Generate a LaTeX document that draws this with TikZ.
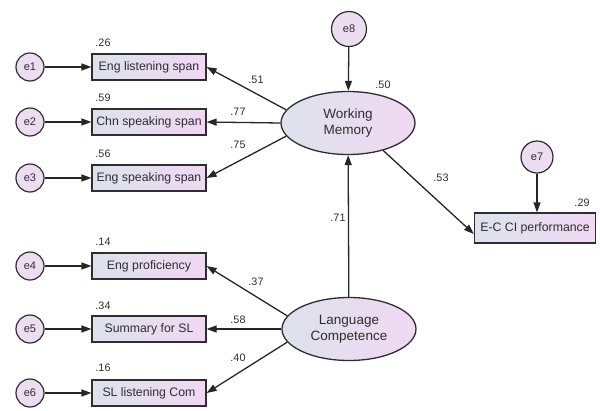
\documentclass[tikz,border=0pt]{standalone}
\usepackage{fontspec}
\setmainfont{Liberation Sans}
\usetikzlibrary{arrows.meta,shapes.geometric}
\definecolor{ink}{HTML}{2E2E2E}
\definecolor{fillL}{HTML}{DCE2EC}
\definecolor{fillR}{HTML}{F1D8F3}
\definecolor{errfill}{HTML}{ECDDF1}
\tikzset{
  obs/.style={draw=ink, line width=1.2pt, rectangle, minimum width=114pt,
    minimum height=26pt, left color=fillL, right color=fillR, inner sep=0pt,
    font=\fontsize{12.3}{14}\selectfont, text=ink},
  lat/.style={draw=ink, line width=1.3pt, ellipse, minimum width=134pt,
    minimum height=63pt, left color=fillL, right color=fillR, inner sep=0pt,
    align=center, font=\fontsize{13.5}{16}\selectfont, text=ink},
  err/.style={draw=ink, line width=1.2pt, circle, minimum size=28pt,
    fill=errfill, inner sep=0pt, font=\fontsize{11}{12}\selectfont, text=ink},
  arr/.style={draw=black!85, line width=1.3pt,
    -{Triangle[length=10pt,width=7pt]}},
  num/.style={font=\fontsize{10.8}{12}\selectfont, text=ink, inner sep=0pt}
}
\begin{document}
\begin{tikzpicture}[x=1pt,y=-1pt]
\useasboundingbox (0,0) rectangle (600,410);

% latent variables
\node[lat] (wm) at (348,123) {Working\\Memory};
\node[lat] (lc) at (349,329) {Language\\Competence};

% observed indicators of working memory
\node[obs] (b1) at (149,67)  {Eng listening span};
\node[obs] (b2) at (149,122) {Chn speaking span};
\node[obs] (b3) at (149,178) {Eng speaking span};
% observed indicators of language competence
\node[obs] (b4) at (149,266) {Eng proficiency};
\node[obs] (b5) at (149,329) {Summary for SL};
\node[obs] (b6) at (149,393) {SL listening Com};
% outcome
\node[obs, minimum width=121pt, minimum height=30pt] (ec) at (535,228) {E-C CI performance};

% error terms
\node[err] (e1) at (30,67)  {e1};
\node[err] (e2) at (30,122) {e2};
\node[err] (e3) at (30,178) {e3};
\node[err] (e4) at (30,266) {e4};
\node[err] (e5) at (30,329) {e5};
\node[err] (e6) at (30,393) {e6};
\node[err, minimum size=32pt] (e7) at (537,157) {e7};
\node[err, minimum size=35pt] (e8) at (349,29) {e8};

% error paths
\foreach \i in {1,...,6} \draw[arr] (e\i) -- (b\i);
\draw[arr] (e8) -- (wm);
\draw[arr] (e7.south) -- (e7.south |- ec.north);

% loadings
\draw[arr] (wm.168) -- (b1.east);
\draw[arr] (wm.180) -- (b2.east);
\draw[arr] (wm.192) -- (b3.east);
\draw[arr] (lc.168) -- (b4.east);
\draw[arr] (lc.180) -- (b5.east);
\draw[arr] (lc.192) -- (b6.east);

% structural paths
\draw[arr] (lc) -- (wm);
\draw[arr] (wm.-38) -- ([yshift=-6pt]ec.west);

% squared multiple correlations
\node[num] (r1) at (103,43)  {.26};
\node[num] (r2) at (103,98)  {.59};
\node[num] (r3) at (103,154) {.56};
\node[num] (r4) at (103,242) {.14};
\node[num] (r5) at (103,306) {.34};
\node[num] (r6) at (103,368) {.16};
\node[num] (rw) at (383,85)  {.50};
\node[num] (re) at (582,203) {.29};

% path coefficients
\node[num] (p1) at (256,80)  {.51};
\node[num] (p2) at (238,112) {.77};
\node[num] (p3) at (238,145) {.75};
\node[num] (p4) at (256,282) {.37};
\node[num] (p5) at (238,320) {.58};
\node[num] (p6) at (238,358) {.40};
\node[num] (p7) at (338,218) {.71};
\node[num] (p8) at (441,178) {.53};
\end{tikzpicture}
\end{document}
